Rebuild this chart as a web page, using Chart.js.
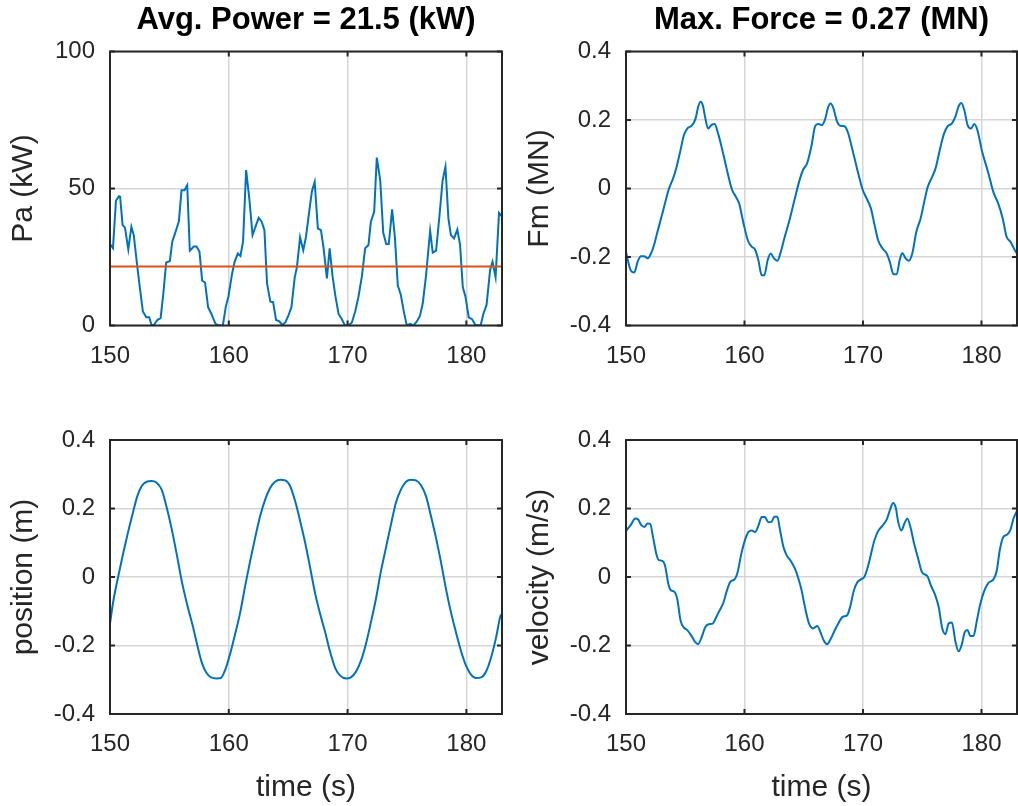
<!DOCTYPE html>
<html lang="en">
<head>
    <meta charset="UTF-8">
    <title>WEC time series</title>
    <script src="https://cdn.jsdelivr.net/npm/chart.js"></script>
    <style>
        body { margin: 0; background: #fff; }
        .panel { position: absolute; }
    </style>
</head>
<body>
    <div class="panel" style="left:0;top:0"><canvas id="chart_power" width="509" height="400"></canvas></div>
    <div class="panel" style="left:509px;top:0"><canvas id="chart_force" width="509" height="400"></canvas></div>
    <div class="panel" style="left:0;top:400px"><canvas id="chart_pos" width="509" height="406"></canvas></div>
    <div class="panel" style="left:509px;top:400px"><canvas id="chart_vel" width="509" height="406"></canvas></div>

    <script>
        // data
        const xTicks = [150, 160, 170, 180];
        const powerTicks = [0, 50, 100];
        const unitTicks = [-0.4, -0.2, 0, 0.2, 0.4];
        const avgPower = 21.5;

        const powerTime = [150.0, 150.25, 150.5, 150.75, 150.85, 151.06, 151.26, 151.54, 151.8, 152.0, 152.3, 152.5, 152.77, 153.05, 153.3, 153.5, 153.7, 153.98, 154.26, 154.48, 154.73, 155.04, 155.24, 155.43, 155.8, 156.02, 156.27, 156.5, 156.72, 157.06, 157.28, 157.53, 157.76, 158.0, 158.26, 158.54, 158.88, 159.16, 159.5, 159.75, 159.97, 160.28, 160.5, 160.76, 160.98, 161.2, 161.46, 161.74, 162.0, 162.3, 162.52, 162.77, 163.0, 163.22, 163.5, 163.73, 163.98, 164.26, 164.5, 164.76, 165.04, 165.27, 165.55, 165.74, 166.0, 166.27, 166.5, 166.78, 167.0, 167.23, 167.5, 167.76, 167.98, 168.26, 168.49, 168.74, 168.96, 169.24, 169.52, 169.75, 170.08, 170.36, 170.64, 170.92, 171.2, 171.48, 171.76, 171.96, 172.24, 172.46, 172.75, 173.0, 173.25, 173.47, 173.75, 173.98, 174.23, 174.48, 174.76, 174.99, 175.27, 175.55, 175.83, 176.1, 176.33, 176.6, 176.95, 177.17, 177.45, 177.73, 178.0, 178.24, 178.49, 178.7, 178.96, 179.24, 179.47, 179.7, 179.92, 180.2, 180.48, 180.76, 181.2, 181.43, 181.7, 182.0, 182.2, 182.46, 182.75, 183.0];
        const powerKW = [29.7, 28.2, 45.5, 47.2, 47.0, 36.7, 35.7, 27.8, 36.0, 33.0, 21.5, 14.2, 5.1, 3.0, 3.0, 0.2, 0.2, 2.0, 2.7, 11.2, 23.0, 23.5, 30.6, 33.0, 38.0, 49.4, 49.4, 51.2, 27.3, 28.8, 28.8, 27.0, 16.4, 15.7, 6.7, 4.2, 0.6, 0, 0, 6.9, 10.6, 19.0, 23.3, 26.3, 25.4, 30.6, 56.7, 45.8, 33.0, 36.7, 39.3, 37.9, 34.8, 15.4, 8.7, 8.5, 2.0, 1.5, 0.2, 1.1, 3.9, 6.6, 17.5, 21.5, 32.2, 27.5, 32.4, 41.9, 49.0, 52.4, 35.4, 34.8, 28.2, 17.2, 28.2, 17.8, 11.2, 4.2, 2.3, 0.2, 0, 1.1, 5.1, 10.6, 17.8, 28.2, 29.4, 37.9, 41.5, 61.3, 53.0, 33.9, 29.7, 29.7, 42.4, 32.4, 14.6, 11.2, 4.5, 0, 0.6, 0, 1.5, 3.6, 8.1, 18.0, 34.6, 26.6, 27.3, 39.7, 53.0, 57.9, 39.0, 33.0, 31.8, 35.0, 29.4, 14.0, 10.6, 3.0, 2.3, 0.2, 0, 4.2, 7.5, 20.3, 23.3, 17.6, 41.1, 39.7];

        const forceTime = [150.0, 150.22, 150.42, 150.7, 150.98, 151.26, 151.54, 151.82, 152.04, 152.37, 152.65, 153.07, 153.63, 153.97, 154.27, 154.6, 154.89, 155.17, 155.59, 155.87, 156.09, 156.29, 156.48, 156.7, 156.93, 157.2, 157.48, 157.77, 158.1, 158.52, 158.94, 159.27, 159.55, 159.92, 160.28, 160.61, 160.89, 161.17, 161.45, 161.67, 161.96, 162.21, 162.49, 162.77, 163.04, 163.4, 163.83, 164.25, 164.66, 164.94, 165.28, 165.64, 165.98, 166.26, 166.54, 166.82, 167.04, 167.26, 167.51, 167.82, 168.1, 168.44, 168.72, 169.05, 169.5, 169.97, 170.31, 170.67, 170.95, 171.28, 171.65, 172.01, 172.29, 172.57, 172.85, 173.1, 173.32, 173.6, 173.88, 174.16, 174.5, 174.86, 175.2, 175.47, 175.84, 176.12, 176.48, 176.82, 177.15, 177.51, 177.79, 178.07, 178.3, 178.55, 178.83, 179.11, 179.39, 179.66, 180.03, 180.59, 181.0, 181.42, 181.8, 182.12, 182.46, 182.82, 183.0];
        const forceMN = [-0.185, -0.219, -0.24, -0.245, -0.214, -0.198, -0.198, -0.204, -0.195, -0.165, -0.127, -0.073, 0.0, 0.029, 0.063, 0.112, 0.156, 0.175, 0.185, 0.204, 0.238, 0.253, 0.243, 0.204, 0.175, 0.185, 0.188, 0.161, 0.117, 0.054, -0.003, -0.024, -0.044, -0.102, -0.151, -0.17, -0.178, -0.209, -0.253, -0.253, -0.209, -0.19, -0.204, -0.211, -0.188, -0.141, -0.088, -0.029, 0.026, 0.054, 0.073, 0.122, 0.183, 0.188, 0.185, 0.204, 0.235, 0.248, 0.234, 0.195, 0.183, 0.182, 0.165, 0.122, 0.058, -0.003, -0.029, -0.058, -0.102, -0.151, -0.175, -0.19, -0.217, -0.25, -0.25, -0.209, -0.188, -0.204, -0.211, -0.19, -0.127, -0.088, -0.034, 0.005, 0.034, 0.058, 0.112, 0.158, 0.182, 0.19, 0.209, 0.24, 0.25, 0.229, 0.185, 0.175, 0.188, 0.17, 0.112, 0.044, -0.01, -0.044, -0.088, -0.141, -0.156, -0.18, -0.19];

        const posTime = [150.0, 150.28, 150.7, 151.12, 151.54, 151.96, 152.3, 152.66, 153.08, 153.5, 153.93, 154.35, 154.78, 155.2, 155.62, 156.04, 156.52, 156.97, 157.36, 157.73, 158.1, 158.51, 158.99, 159.33, 159.69, 160.11, 160.53, 160.96, 161.38, 161.8, 162.22, 162.64, 163.06, 163.48, 163.9, 164.33, 164.75, 165.17, 165.59, 166.01, 166.43, 166.85, 167.28, 167.7, 168.12, 168.54, 168.96, 169.38, 169.86, 170.28, 170.7, 171.12, 171.54, 171.96, 172.38, 172.81, 173.23, 173.65, 174.07, 174.49, 174.92, 175.34, 175.76, 176.18, 176.6, 177.02, 177.44, 177.87, 178.29, 178.71, 179.13, 179.55, 179.97, 180.39, 180.81, 181.24, 181.66, 182.08, 182.5, 182.87, 183.0];
        const posM = [-0.136, -0.07, 0.003, 0.071, 0.134, 0.192, 0.236, 0.265, 0.278, 0.28, 0.275, 0.255, 0.202, 0.139, 0.066, -0.012, -0.084, -0.143, -0.201, -0.25, -0.279, -0.293, -0.296, -0.295, -0.272, -0.225, -0.167, -0.104, -0.026, 0.047, 0.115, 0.178, 0.226, 0.26, 0.278, 0.284, 0.282, 0.265, 0.221, 0.163, 0.1, 0.027, -0.05, -0.109, -0.162, -0.22, -0.266, -0.288, -0.296, -0.293, -0.277, -0.245, -0.196, -0.133, -0.065, 0.017, 0.085, 0.153, 0.217, 0.255, 0.278, 0.284, 0.282, 0.268, 0.236, 0.178, 0.115, 0.042, -0.036, -0.104, -0.162, -0.216, -0.259, -0.285, -0.295, -0.293, -0.276, -0.235, -0.177, -0.114, -0.109];

        const velTime = [150.0, 150.42, 150.78, 151.03, 151.26, 151.54, 151.82, 152.04, 152.29, 152.57, 152.79, 153.07, 153.3, 153.58, 153.77, 154.11, 154.33, 154.61, 154.89, 155.17, 155.53, 155.87, 156.09, 156.37, 156.7, 156.98, 157.32, 157.6, 157.88, 158.24, 158.46, 158.8, 159.16, 159.44, 159.72, 160.06, 160.34, 160.61, 160.89, 161.17, 161.45, 161.73, 162.01, 162.29, 162.51, 162.77, 162.99, 163.27, 163.55, 163.91, 164.25, 164.53, 164.8, 165.08, 165.42, 165.78, 166.15, 166.42, 166.7, 166.98, 167.26, 167.6, 167.93, 168.3, 168.66, 168.94, 169.22, 169.5, 169.83, 170.11, 170.39, 170.67, 170.95, 171.28, 171.65, 172.01, 172.29, 172.54, 172.77, 172.96, 173.24, 173.52, 173.74, 174.02, 174.3, 174.64, 175.0, 175.42, 175.75, 176.12, 176.4, 176.68, 176.96, 177.23, 177.51, 177.79, 178.07, 178.35, 178.58, 178.83, 179.05, 179.33, 179.61, 179.89, 180.23, 180.59, 181.01, 181.28, 181.56, 181.84, 182.18, 182.46, 182.68, 183.0];
        const velMS = [0.134, 0.153, 0.171, 0.168, 0.153, 0.146, 0.156, 0.155, 0.115, 0.066, 0.049, 0.047, 0.032, -0.021, -0.038, -0.044, -0.065, -0.128, -0.148, -0.155, -0.172, -0.191, -0.196, -0.177, -0.146, -0.138, -0.136, -0.118, -0.099, -0.073, -0.046, -0.014, -0.007, 0.017, 0.066, 0.11, 0.132, 0.136, 0.131, 0.149, 0.175, 0.175, 0.16, 0.161, 0.176, 0.176, 0.139, 0.09, 0.064, 0.047, 0.025, -0.002, -0.036, -0.084, -0.133, -0.15, -0.143, -0.162, -0.186, -0.196, -0.182, -0.157, -0.135, -0.116, -0.112, -0.084, -0.041, -0.017, -0.007, 0, 0.027, 0.066, 0.105, 0.134, 0.15, 0.168, 0.197, 0.216, 0.202, 0.163, 0.136, 0.158, 0.171, 0.144, 0.1, 0.056, 0.013, 0.003, -0.026, -0.055, -0.089, -0.148, -0.167, -0.136, -0.133, -0.186, -0.217, -0.196, -0.162, -0.155, -0.172, -0.172, -0.128, -0.08, -0.041, -0.017, -0.007, 0.017, 0.081, 0.117, 0.124, 0.139, 0.168, 0.194];

        const FONT = "'Liberation Sans', Arial, Helvetica, sans-serif";
        const AXIS = '#262626';
        const GRID = '#d6d6d6';
        const BLUE = '#0072BD';
        const ORANGE = '#D95319';

        const pts = (t, v) => t.map((x, i) => ({ x: x, y: v[i] }));

        // matlab style box: frame plus inward ticks on all four sides
        const boxAxes = {
            id: 'boxAxes',
            afterDraw(chart) {
                const { ctx, chartArea: a, scales: { x, y } } = chart;
                ctx.save();
                ctx.strokeStyle = AXIS;
                ctx.lineWidth = 2;
                ctx.beginPath();
                x.ticks.forEach(t => {
                    const px = x.getPixelForValue(t.value);
                    ctx.moveTo(px, a.bottom); ctx.lineTo(px, a.bottom - 5);
                    ctx.moveTo(px, a.top); ctx.lineTo(px, a.top + 5);
                });
                y.ticks.forEach(t => {
                    const py = y.getPixelForValue(t.value);
                    ctx.moveTo(a.left, py); ctx.lineTo(a.left + 5, py);
                    ctx.moveTo(a.right, py); ctx.lineTo(a.right - 5, py);
                });
                ctx.stroke();
                ctx.strokeRect(a.left, a.top, a.right - a.left, a.bottom - a.top);
                ctx.restore();
            }
        };

        function makePanel(id, cfg) {
            const datasets = cfg.series.map(s => ({
                data: s.data,
                borderColor: s.color,
                borderWidth: 2,
                pointRadius: 0,
                tension: 0,
                cubicInterpolationMode: s.smooth ? 'monotone' : 'default',
                order: s.order || 0
            }));
            new Chart(document.getElementById(id), {
                type: 'line',
                data: { datasets: datasets },
                plugins: [boxAxes],
                options: {
                    responsive: false,
                    animation: false,
                    devicePixelRatio: 1,
                    layout: { padding: { left: 0, right: cfg.padRight, top: cfg.padTop, bottom: 0 } },
                    plugins: {
                        legend: { display: false },
                        tooltip: { enabled: false },
                        title: {
                            display: !!cfg.title,
                            text: cfg.title || '',
                            fullSize: false,
                            color: '#000',
                            font: { family: FONT, size: 31, weight: 'bold', lineHeight: 1 },
                            padding: { top: 5, bottom: 15.5 }
                        }
                    },
                    scales: {
                        x: {
                            type: 'linear',
                            min: 150,
                            max: 183,
                            afterBuildTicks: s => { s.ticks = xTicks.map(v => ({ value: v })); },
                            afterFit: s => { s.height = cfg.xHeight; },
                            grid: { color: GRID, lineWidth: 1.5, drawTicks: false },
                            border: { display: false },
                            ticks: { font: { family: FONT, size: 24 }, color: AXIS, padding: 16, maxRotation: 0, autoSkip: false },
                            title: {
                                display: !!cfg.xTitle,
                                text: cfg.xTitle || '',
                                color: AXIS,
                                font: { family: FONT, size: 30, lineHeight: 1 },
                                padding: { top: 0, bottom: 3 }
                            }
                        },
                        y: {
                            min: cfg.yTicks[0],
                            max: cfg.yTicks[cfg.yTicks.length - 1],
                            afterBuildTicks: s => { s.ticks = cfg.yTicks.map(v => ({ value: v })); },
                            afterFit: s => { s.width = cfg.yWidth; },
                            grid: { color: GRID, lineWidth: 1.5, drawTicks: false },
                            border: { display: false },
                            ticks: {
                                font: { family: FONT, size: 24 }, color: AXIS, padding: 15, autoSkip: false,
                                callback: v => String(Math.round(v * 10) / 10)
                            },
                            title: {
                                display: true,
                                text: cfg.yTitle,
                                color: AXIS,
                                font: { family: FONT, size: 30, lineHeight: 1 },
                                padding: { top: cfg.yTitlePad, bottom: 0 }
                            }
                        }
                    }
                }
            });
        }

        makePanel('chart_power', {
            title: 'Avg. Power = ' + avgPower + ' (kW)',
            yTitle: 'Pa (kW)', yTicks: powerTicks,
            yWidth: 110, padRight: 7, padTop: 0, xHeight: 74.5, yTitlePad: 9,
            series: [
                { data: pts(powerTime, powerKW), color: BLUE, order: 1 },
                { data: pts([150, 183], [avgPower, avgPower]), color: ORANGE, order: 0 }
            ]
        });

        makePanel('chart_force', {
            title: 'Max. Force = 0.27 (MN)',
            yTitle: 'Fm (MN)', yTicks: unitTicks,
            yWidth: 117, padRight: 1, padTop: 0, xHeight: 74.5, yTitlePad: 16,
            series: [{ data: pts(forceTime, forceMN), color: BLUE, smooth: true }]
        });

        makePanel('chart_pos', {
            xTitle: 'time (s)',
            yTitle: 'position (m)', yTicks: unitTicks,
            yWidth: 110, padRight: 7, padTop: 40, xHeight: 92, yTitlePad: 9,
            series: [{ data: pts(posTime, posM), color: BLUE, smooth: true }]
        });

        makePanel('chart_vel', {
            xTitle: 'time (s)',
            yTitle: 'velocity (m/s)', yTicks: unitTicks,
            yWidth: 117, padRight: 1, padTop: 40, xHeight: 92, yTitlePad: 16,
            series: [{ data: pts(velTime, velMS), color: BLUE, smooth: true }]
        });
    </script>
</body>
</html>
